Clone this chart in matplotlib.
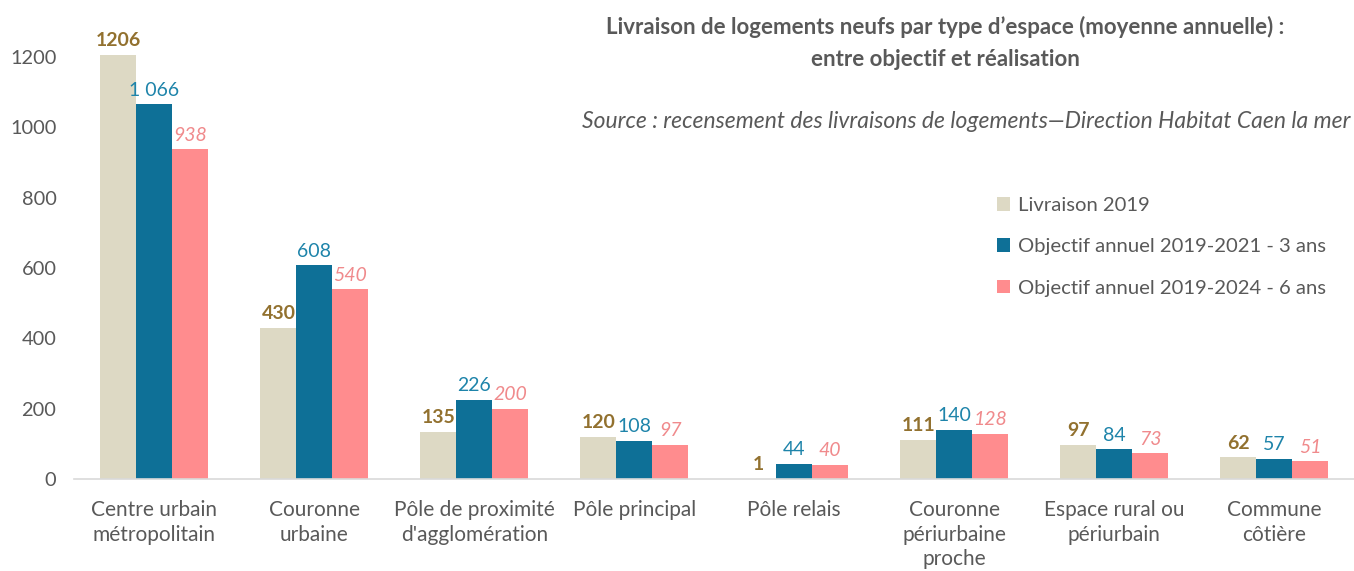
import matplotlib
matplotlib.use("Agg")
import matplotlib.pyplot as plt
import numpy as np

categories = ["Centre urbain\nmétropolitain", "Couronne\nurbaine", "Pôle de proximité\nd'agglomération",
              "Pôle principal", "Pôle relais", "Couronne\npériurbaine\nproche",
              "Espace rural ou\npériurbain", "Commune\ncôtière"]
livraison_2019 = [1206, 430, 135, 120, 1, 111, 97, 62]
objectif_3ans = [1066, 608, 226, 108, 44, 140, 84, 57]
objectif_6ans = [938, 540, 200, 97, 40, 128, 73, 51]
series_names = ["Livraison 2019", "Objectif annuel 2019-2021 - 3 ans", "Objectif annuel 2019-2024 - 6 ans"]
yticks = [0, 200, 400, 600, 800, 1000, 1200]

plt.rcParams['font.family'] = ['Lato', 'DejaVu Sans']

bar_colors = ["#DDD9C4", "#0E7097", "#FF8C8E"]
label_colors = ["#92712F", "#1E84AA", "#F08A8C"]
grey = "#595959"

fig = plt.figure(figsize=(13.54, 5.71), dpi=100)
ax = fig.add_axes([0.055, 1 - 479 / 571, 0.945, 479 / 571 - 22 / 571])

x = np.arange(len(categories))
w = 0.225
data = [livraison_2019, objectif_3ans, objectif_6ans]
for i, (vals, name) in enumerate(zip(data, series_names)):
    pos = x + (i - 1) * w
    ax.bar(pos, vals, width=w, color=bar_colors[i], label=name, zorder=2)
    for xp, v in zip(pos, vals):
        txt = f"{v:,}".replace(",", " ") if i == 1 else str(v)
        ax.annotate(txt, (xp, v), xytext=(0, 4), textcoords="offset points",
                    ha="center", va="bottom", fontsize=14, color=label_colors[i],
                    fontweight="bold" if i == 0 else "normal",
                    fontstyle="italic" if i == 2 else "normal")

ax.set_xlim(-0.5, len(categories) - 0.5)
ax.set_ylim(0, 1300)
ax.set_yticks(yticks)
ax.set_yticklabels([str(t) for t in yticks], fontsize=14.4, color=grey)
ax.set_xticks(x)
ax.set_xticklabels(categories, fontsize=15, color=grey, linespacing=1.3, va="top")
ax.tick_params(axis="both", length=0)
ax.tick_params(axis="x", pad=15)
ax.tick_params(axis="y", pad=13)
for s in ["top", "right", "left"]:
    ax.spines[s].set_visible(False)
ax.spines["bottom"].set_color("#D9D9D9")
ax.spines["bottom"].set_linewidth(1.2)

fig.text(945 / 1354, 1 - 27 / 571, "Livraison de logements neufs par type d\u2019espace (moyenne annuelle) :",
         ha="center", va="center", fontsize=16, fontweight="bold", color=grey)
fig.text(945 / 1354, 1 - 60 / 571, "entre objectif et réalisation",
         ha="center", va="center", fontsize=16, fontweight="bold", color=grey)
fig.text(1350 / 1354, 1 - 121 / 571,
         "Source : recensement des livraisons de logements\u2014Direction Habitat Caen la mer",
         ha="right", va="center", fontsize=16.5, fontstyle="italic", color=grey)

leg = ax.legend(loc="upper left", bbox_to_anchor=(997 / 1354, 1 - 197 / 571), bbox_transform=fig.transFigure,
                frameon=False, fontsize=14.6, handlelength=0.65, handleheight=0.65, handletextpad=0.4,
                labelspacing=1.2, borderpad=0, borderaxespad=0)
for t in leg.get_texts():
    t.set_color(grey)

fig.savefig("out.png", dpi=100)
